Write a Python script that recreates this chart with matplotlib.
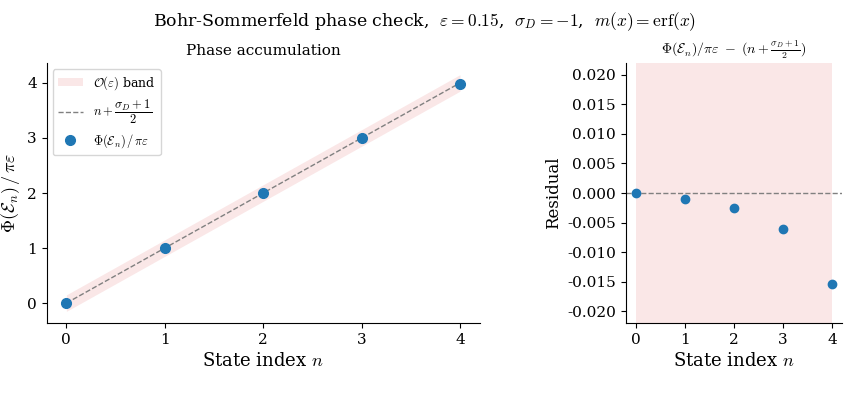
import numpy as np
import matplotlib
matplotlib.use("Agg")
import matplotlib.pyplot as plt

plt.rcParams['font.family'] = 'DejaVu Serif'
plt.rcParams['mathtext.fontset'] = 'cm'
plt.rcParams['axes.unicode_minus'] = False

# data
eps = 0.15
sigma_D = -1
n = [0, 1, 2, 3, 4]
residual = [0.0, -0.00094, -0.0026, -0.0060, -0.0154]

n_arr = np.array(n)
ideal = n_arr + (sigma_D + 1) / 2
phase = ideal + np.array(residual)

fig, (ax1, ax2) = plt.subplots(1, 2, figsize=(8.49, 4.03), dpi=100,
                               gridspec_kw={'width_ratios': [2, 1]})
fig.subplots_adjust(left=0.055, right=0.992, top=0.844, bottom=0.198, wspace=0.45)

fig.suptitle(r'Bohr-Sommerfeld phase check,  $\varepsilon=0.15$,  $\sigma_D=-1$,  $m(x)=\mathrm{erf}(x)$',
             fontsize=12.5, y=0.975)

# left: phase accumulation
ax1.fill_between(n_arr, ideal - eps, ideal + eps, color='tab:red', alpha=0.11,
                 linewidth=0, label=r'$\mathcal{O}(\varepsilon)$ band')
ax1.plot(n_arr, ideal, '--', color='gray', lw=1,
         label=r'$n+\dfrac{\sigma_D+1}{2}$')
ax1.plot(n_arr, phase, 'o', color='C0', ms=7, label=r'$\Phi(\mathcal{E}_n)\,/\,\pi\varepsilon$')
ax1.set_title('Phase accumulation', fontsize=11)
ax1.set_xlabel(r'State index $n$', fontsize=13)
ax1.set_ylabel(r'$\Phi(\mathcal{E}_n)\,/\,\pi\varepsilon$', fontsize=13)
ax1.set_xticks(n)
ax1.legend(loc='upper left', fontsize=9)

# right: residual
ax2.fill_between(n_arr, -eps, eps, color='tab:red', alpha=0.11, linewidth=0)
ax2.axhline(0, ls='--', color='gray', lw=1)
ax2.plot(n_arr, residual, 'o', color='C0', ms=6)
ax2.set_ylim(-0.022, 0.022)
ax2.set_yticks(np.arange(-0.020, 0.0201, 0.005))
ax2.set_xticks(n)
ax2.set_title(r'$\Phi(\mathcal{E}_n)/\pi\varepsilon\ -\ (n+\frac{\sigma_D+1}{2})$', fontsize=10)
ax2.set_xlabel(r'State index $n$', fontsize=13)
ax2.set_ylabel('Residual', fontsize=12)

for ax in (ax1, ax2):
    ax.spines['top'].set_visible(False)
    ax.spines['right'].set_visible(False)
    ax.tick_params(labelsize=11)

fig.savefig('out.png', dpi=100)
